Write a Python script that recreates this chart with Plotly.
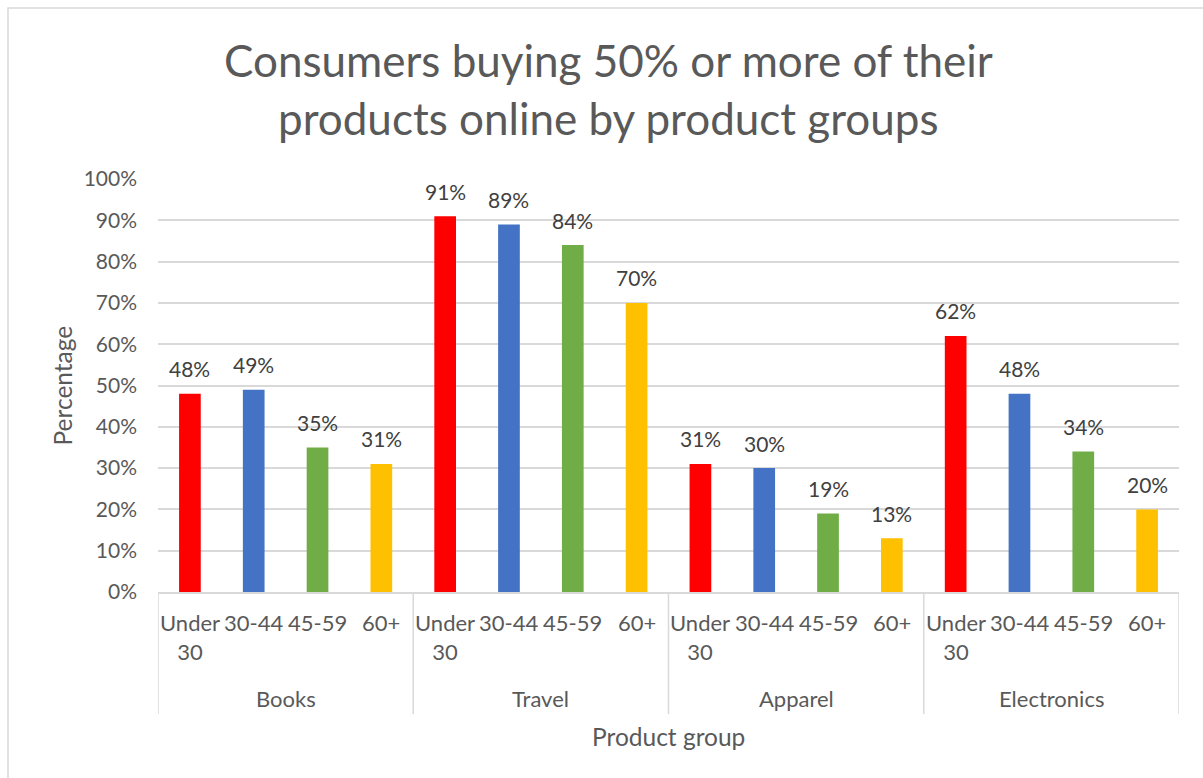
import plotly.graph_objects as go

# Data
groups = ["Books", "Travel", "Apparel", "Electronics"]
age_groups = ["Under 30", "30-44", "45-59", "60+"]
age_tick_text = ["Under<br>30", "30-44", "45-59", "60+"]
values = {
    "Under 30": [48, 91, 31, 62],
    "30-44": [49, 89, 30, 48],
    "45-59": [35, 84, 19, 34],
    "60+": [31, 70, 13, 20],
}
y_ticks = [0, 10, 20, 30, 40, 50, 60, 70, 80, 90, 100]
y_tick_labels = ["0%", "10%", "20%", "30%", "40%", "50%", "60%", "70%", "80%", "90%", "100%"]
title_lines = ["Consumers buying 50% or more of their", "products online by product groups"]

colors = {"Under 30": "#FF0000", "30-44": "#4472C4", "45-59": "#70AD47", "60+": "#FFC000"}

FONT = "Lato"
TXT = "#595959"
GRID = "#D9D9D9"

W, H = 1203, 778
L, R, T, B = 158, 24, 179, 186
PW, PH = W - L - R, H - T - B


def px_x(p):
    return (p - L) / PW


def px_y(p):
    return (H - B - p) / PH


n_ages = len(age_groups)
fig = go.Figure()
annotations = []

for a, age in enumerate(age_groups):
    xs = [g * n_ages + a for g in range(len(groups))]
    fig.add_trace(go.Bar(
        x=xs, y=values[age], name=age, width=0.34,
        marker=dict(color=colors[age], line=dict(width=0)),
        hoverinfo="skip",
    ))
    for x, v in zip(xs, values[age]):
        annotations.append(dict(
            x=x, y=v, xref="x", yref="y", text=f"{v}%", showarrow=False,
            yanchor="middle", yshift=25,
            font=dict(family=FONT, size=21, color="#404040"),
        ))

# Category labels under the axis
for g, grp in enumerate(groups):
    for a, lab in enumerate(age_tick_text):
        annotations.append(dict(
            x=g * n_ages + a, y=0, xref="x", yref="paper", text=lab,
            showarrow=False, yanchor="top", yshift=-15,
            font=dict(family=FONT, size=22, color=TXT),
        ))
    annotations.append(dict(
        x=g * n_ages + (n_ages - 1) / 2, y=0, xref="x", yref="paper", text=grp,
        showarrow=False, yanchor="middle", yshift=-106,
        font=dict(family=FONT, size=22, color=TXT),
    ))

# Axis titles
annotations.append(dict(
    x=0.5, y=0, xref="paper", yref="paper", text="Product group", showarrow=False,
    yanchor="middle", yshift=-144, font=dict(family=FONT, size=24.5, color=TXT),
))
annotations.append(dict(
    x=px_x(62), y=0.5, xref="paper", yref="paper", text="Percentage", showarrow=False,
    textangle=-90, xanchor="center", yanchor="middle",
    font=dict(family=FONT, size=24.5, color=TXT),
))

# Chart title
for i, line in enumerate(title_lines):
    annotations.append(dict(
        x=px_x(608), y=px_y(60 + 58 * i), xref="paper", yref="paper", text=line,
        showarrow=False, xanchor="center", yanchor="middle",
        font=dict(family=FONT, size=44, color=TXT),
    ))

shapes = []
# Group dividers below the axis
for g in range(len(groups) + 1):
    xv = g * n_ages - 0.5
    shapes.append(dict(type="line", xref="x", yref="paper", x0=xv, x1=xv,
                       y0=0, y1=px_y(714), line=dict(color=GRID, width=1.5)))
# Chart border
shapes.append(dict(type="rect", xref="paper", yref="paper",
                   x0=px_x(8), x1=px_x(1215), y0=px_y(8), y1=px_y(790),
                   line=dict(color=GRID, width=1.5), fillcolor="rgba(0,0,0,0)"))

fig.update_layout(
    width=W, height=H,
    margin=dict(l=L, r=R, t=T, b=B, pad=0),
    paper_bgcolor="white", plot_bgcolor="white",
    showlegend=False, barmode="overlay",
    annotations=annotations, shapes=shapes,
    xaxis=dict(range=[-0.5, len(groups) * n_ages - 0.5], showticklabels=False,
               showgrid=False, zeroline=False, showline=True,
               linecolor=GRID, linewidth=1.5, ticks=""),
    yaxis=dict(range=[0, 100], tickmode="array", tickvals=y_ticks, ticktext=y_tick_labels,
               showgrid=True, gridcolor=GRID, gridwidth=1.5, zeroline=False,
               showline=False, ticks="", ticklabelstandoff=20,
               tickfont=dict(family=FONT, size=21, color=TXT)),
)

fig.write_html("out.html")
